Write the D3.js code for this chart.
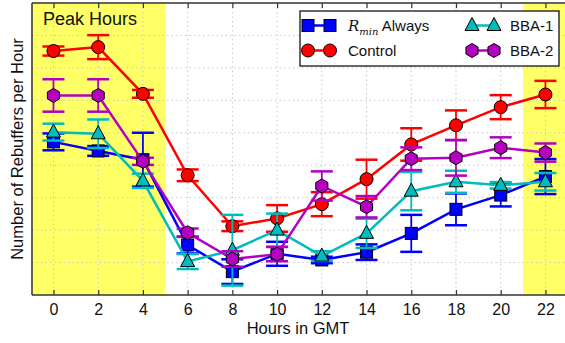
<!DOCTYPE html>
<html><head><meta charset="utf-8">
<script src="https://cdn.jsdelivr.net/npm/d3@7"></script>
<style>body{margin:0;background:#fff}svg{display:block;font-family:"Liberation Sans",Arial,sans-serif}</style>
</head><body><svg id="c" width="565" height="343"></svg>
<script>
const hours = [0,2,4,6,8,10,12,14,16,18,20,22];
const xTicks = [0,2,4,6,8,10,12,14,16,18,20,22];
const peakBands = [[-1,5],[21,23]];
const rminVals    = [4.72,4.44,4.17,1.54,0.72,1.27,1.08,1.32,1.90,2.64,3.08,3.65];
const rminErr     = [0.26,0.15,0.83,0.26,0.38,0.37,0.10,0.24,0.57,0.49,0.35,0.54];
const controlVals = [7.52,7.64,6.20,3.69,2.12,2.36,2.80,3.57,4.64,5.23,5.79,6.18];
const controlErr  = [0.14,0.37,0.12,0.18,0.15,0.41,0.37,0.60,0.50,0.46,0.37,0.42];
const bba1Vals    = [5.02,4.97,3.52,1.03,1.38,2.00,1.20,1.90,3.20,3.49,3.38,3.49];
const bba1Err     = [0.26,0.44,0.22,0.23,1.09,0.51,0.15,0.45,0.59,0.34,0.10,0.27];
const bba2Vals    = [6.15,6.15,4.12,1.92,1.11,1.26,3.36,2.72,4.20,4.23,4.54,4.39];
const bba2Err     = [0.50,0.50,0.11,0.13,0.24,0.22,0.45,0.33,0.35,0.55,0.32,0.28];

const series = [
  {name:"Rmin", vals:rminVals, err:rminErr, color:"#0000ff", shape:"square"},
  {name:"Control", vals:controlVals, err:controlErr, color:"#ff0000", shape:"circle"},
  {name:"BBA-1", vals:bba1Vals, err:bba1Err, color:"#00bcbc", shape:"triangle"},
  {name:"BBA-2", vals:bba2Vals, err:bba2Err, color:"#b400c0", shape:"hexagon"}
];

const svg = d3.select("#c");
const L=32, R=568, T=3, B=295;
const x = d3.scaleLinear().domain([-1,23]).range([31.1,567.8]);
const y = d3.scaleLinear().domain([0,9]).range([B,T]);

// bands
svg.selectAll("rect.band").data(peakBands).enter().append("rect")
  .attr("x",d=>x(d[0])).attr("width",d=>x(d[1])-x(d[0]))
  .attr("y",T).attr("height",B-T).attr("fill","#ffff66");

// grid
const g = svg.append("g");
g.selectAll("line.vg").data(xTicks).enter().append("line")
  .attr("x1",d=>x(d)).attr("x2",d=>x(d)).attr("y1",T).attr("y2",B)
  .attr("stroke","#c8c8c8").attr("stroke-width",1).attr("stroke-dasharray","1.5,3");
g.selectAll("line.hg").data(d3.range(1,9)).enter().append("line")
  .attr("x1",L).attr("x2",R).attr("y1",d=>y(d)).attr("y2",d=>y(d))
  .attr("stroke","#c8c8c8").attr("stroke-width",1).attr("stroke-dasharray","1.5,3");

// axes
const xAxis = d3.axisBottom(x).tickValues(xTicks).tickSize(-5).tickPadding(9).tickFormat(d3.format("d"));
const ax = svg.append("g").attr("transform",`translate(0,${B})`).call(xAxis);
ax.select(".domain").remove();
ax.selectAll("line").attr("stroke","#333").attr("stroke-width",1.2);
ax.selectAll("text").attr("font-size",16).attr("fill","#111").attr("font-family","Liberation Sans, Arial, sans-serif");
const axTop = svg.append("g").attr("transform",`translate(0,${T})`).call(d3.axisTop(x).tickValues(xTicks).tickSize(-5).tickFormat(""));
axTop.select(".domain").remove();
axTop.selectAll("line").attr("stroke","#333").attr("stroke-width",1.2);
svg.append("line").attr("x1",L).attr("x2",R).attr("y1",B).attr("y2",B).attr("stroke","#333").attr("stroke-width",1.5);
svg.append("line").attr("x1",L).attr("x2",R).attr("y1",T).attr("y2",T).attr("stroke","#333").attr("stroke-width",1.5);
svg.append("line").attr("x1",L).attr("x2",L).attr("y1",T).attr("y2",B).attr("stroke","#333").attr("stroke-width",1.5);

// labels
svg.append("text").attr("x",43).attr("y",25).attr("font-size",18).attr("fill","#111").text("Peak Hours");
svg.append("text").attr("x",298).attr("y",334).attr("text-anchor","middle").attr("font-size",16.5).attr("fill","#111").text("Hours in GMT");
svg.append("text").attr("transform","translate(23,149) rotate(-90)").attr("text-anchor","middle").attr("font-size",16.5).attr("fill","#111").text("Number of Rebuffers per Hour");

function marker(sel, shape, color){
  let p;
  if(shape==="square") p = sel.append("rect").attr("x",-6).attr("y",-6).attr("width",12).attr("height",12);
  else if(shape==="circle") p = sel.append("circle").attr("r",6.5);
  else if(shape==="triangle") p = sel.append("path").attr("d","M0,-8L7,5L-7,5Z");
  else { const pts=d3.range(6).map(i=>{const a=Math.PI/6+i*Math.PI/3;return [7*Math.cos(a),7*Math.sin(a)];}); p = sel.append("path").attr("d","M"+pts.join("L")+"Z"); }
  p.attr("fill",color).attr("stroke","#000").attr("stroke-width",1);
}

const line = d3.line().x(d=>x(d[0])).y(d=>y(d[1]));
series.forEach(s=>{
  const data = hours.map((h,i)=>[h,s.vals[i],s.err[i]]);
  const sg = svg.append("g");
  sg.append("path").datum(data).attr("d",line).attr("fill","none").attr("stroke",s.color).attr("stroke-width",2.5);
  const eb = sg.selectAll("g.eb").data(data).enter().append("g");
  eb.append("line").attr("x1",d=>x(d[0])).attr("x2",d=>x(d[0])).attr("y1",d=>y(d[1]-d[2])).attr("y2",d=>y(d[1]+d[2]))
    .attr("stroke",s.color).attr("stroke-width",1.8);
  [1,-1].forEach(sg2=>{
    eb.append("line").attr("x1",d=>x(d[0])-11).attr("x2",d=>x(d[0])+11).attr("y1",d=>y(d[1]+sg2*d[2])).attr("y2",d=>y(d[1]+sg2*d[2]))
      .attr("stroke",s.color).attr("stroke-width",2.5);
  });
  sg.selectAll("g.m").data(data).enter().append("g").attr("transform",d=>`translate(${x(d[0])},${y(d[1])})`)
    .each(function(){ marker(d3.select(this), s.shape, s.color); });
});

// legend
const lg = svg.append("g");
lg.append("rect").attr("x",300).attr("y",11).attr("width",259).attr("height",55).attr("fill","#fff").attr("stroke","#000").attr("stroke-width",1.2);
const legItems = [
  {s:series[0], x:308, y:25.5},
  {s:series[1], x:308, y:50.5},
  {s:series[2], x:472, y:25.5},
  {s:series[3], x:472, y:50.5}
];
legItems.forEach(it=>{
  lg.append("line").attr("x1",it.x).attr("x2",it.x+22).attr("y1",it.y).attr("y2",it.y).attr("stroke",it.s.color).attr("stroke-width",2.5);
  [it.x,it.x+22].forEach(px=>{ const m=lg.append("g").attr("transform",`translate(${px},${it.y})`); marker(m,it.s.shape,it.s.color); });
});
const t1 = lg.append("text").attr("x",348).attr("y",31).attr("font-size",15).attr("fill","#111");
t1.append("tspan").attr("font-family","DejaVu Serif, serif").attr("font-style","italic").text("R");
t1.append("tspan").attr("font-family","DejaVu Serif, serif").attr("font-style","italic").attr("font-size",10).attr("dy",4).text("min");
t1.append("tspan").attr("dy",-4).text(" Always");
lg.append("text").attr("x",348).attr("y",56).attr("font-size",15).attr("fill","#111").text("Control");
lg.append("text").attr("x",510).attr("y",31).attr("font-size",15).attr("fill","#111").text("BBA-1");
lg.append("text").attr("x",510).attr("y",56).attr("font-size",15).attr("fill","#111").text("BBA-2");
</script></body></html>
